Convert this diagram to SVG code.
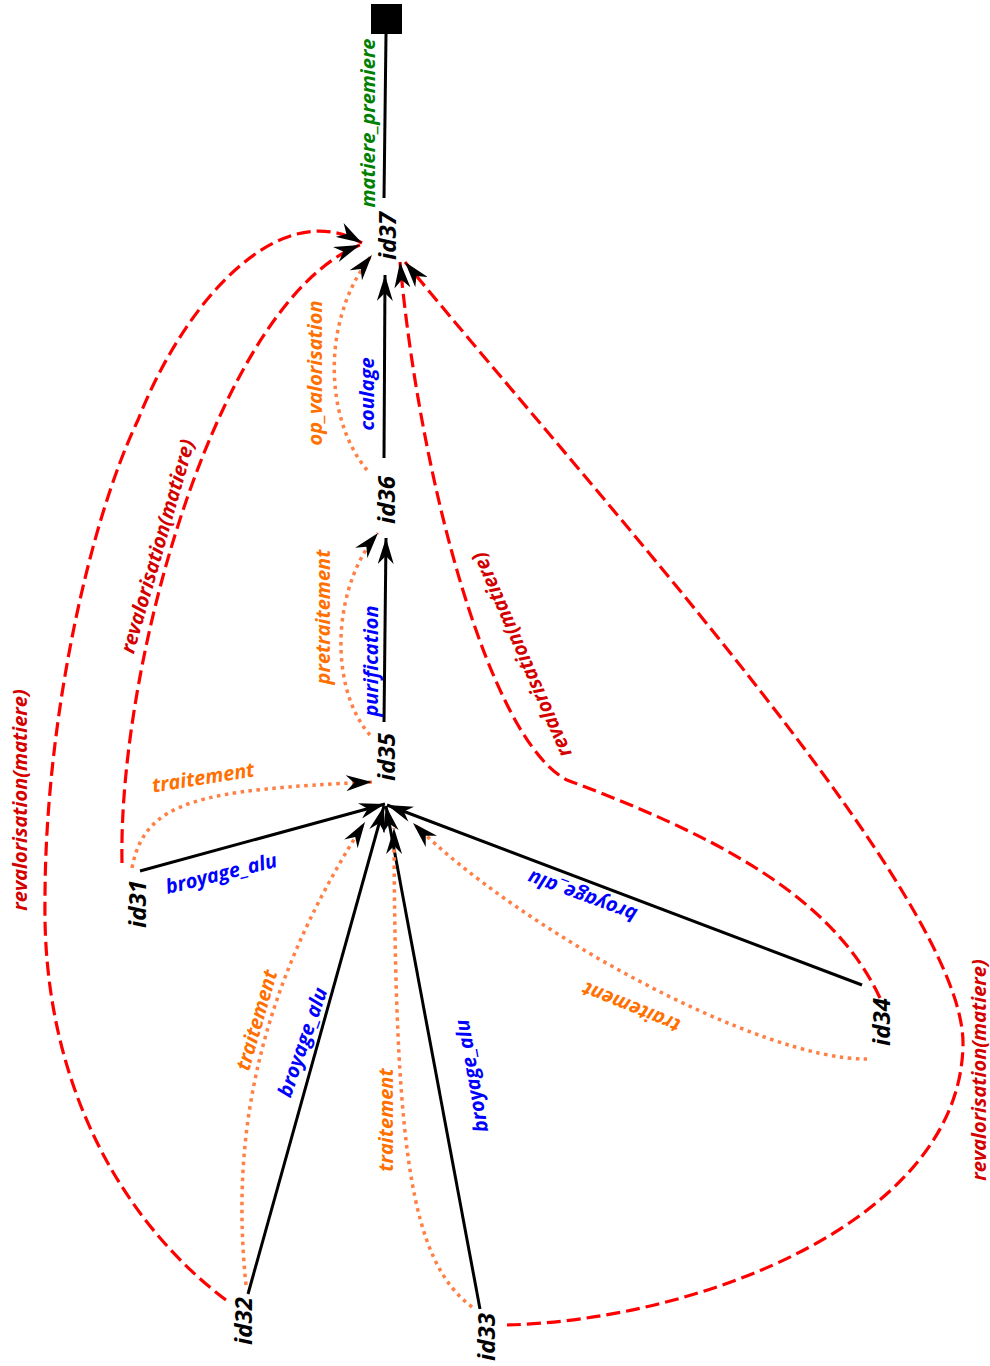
<svg xmlns="http://www.w3.org/2000/svg" width="990" height="1366" viewBox="0 0 990 1366">
<style>
text{font-family:"Open Sans","Noto Sans","DejaVu Sans",sans-serif;font-style:italic;font-weight:700;text-anchor:middle;dominant-baseline:central}
.n{font-size:24px;fill:#000}
.l{font-size:20px}
.g{fill:#008000}.b{fill:#0000ff}.o{fill:#ff7000}.r{fill:#d40000}
.solid{fill:none;stroke:#000;stroke-width:3}
.dot{fill:none;stroke:#ff7f45;stroke-width:3.5;stroke-dasharray:3.5 4.5}
.dash{fill:none;stroke:#ff0000;stroke-width:3.2;stroke-dasharray:14 6}
</style>
<defs>
<marker id="ah" viewBox="0 0 26 16" refX="26" refY="8" markerWidth="26" markerHeight="16" markerUnits="userSpaceOnUse" orient="auto"><path d="M0,0 L26,8 L0,16 L8,8 z" fill="#000"/></marker>
</defs>
<g id="connectors">
<path class="solid" d="M386,34 L384,198"/>
<path class="solid" d="M384,458 L385,275" marker-end="url(#ah)"/>
<path class="solid" d="M384,722 L386,538" marker-end="url(#ah)"/>
<path class="dot" d="M367,470 C325,420 320,320 372,255" marker-end="url(#ah)"/>
<path class="dot" d="M370,735 C330,690 330,590 378,533" marker-end="url(#ah)"/>
<path class="solid" d="M140,871 L385,804" marker-end="url(#ah)"/>
<path class="solid" d="M248,1294 L384,806" marker-end="url(#ah)"/>
<path class="solid" d="M480,1309 L386,806" marker-end="url(#ah)"/>
<path class="solid" d="M862,985 L387,805" marker-end="url(#ah)"/>
<path class="dot" d="M132,868 C145,800 200,790 372,782" marker-end="url(#ah)"/>
<path class="dot" d="M246,1285 C232,1150 250,1000 365,822" marker-end="url(#ah)"/>
<path class="dot" d="M472,1307 C410,1260 395,1150 394,828" marker-end="url(#ah)"/>
<path class="dot" d="M867,1059 C760,1060 520,930 413,823" marker-end="url(#ah)"/>
<path class="dash" d="M122,863 C118,660 220,300 360,245" marker-end="url(#ah)"/>
<path class="dash" d="M226,1300 C120,1220 42,1080 45,900 C45,720 90,520 138,420 C185,300 280,195 362,243" marker-end="url(#ah)"/>
<path class="dash" d="M507,1325 C700,1320 960,1220 963,1045 C966,900 600,500 405,262" marker-end="url(#ah)"/>
<path class="dash" d="M880,998 C830,890 700,830 567,780 C490,740 420,480 400,262" marker-end="url(#ah)"/>
<text class="l g" transform="translate(367,123) rotate(-90)">matiere_premiere</text>
<text class="l b" transform="translate(366,394) rotate(-90)">coulage</text>
<text class="l o" transform="translate(314,373) rotate(-90)">op_valorisation</text>
<text class="l o" transform="translate(322,617) rotate(-90)">pretraitement</text>
<text class="l b" transform="translate(370,661) rotate(-90)">purification</text>
<text class="l o" transform="translate(203,777) rotate(-9)">traitement</text>
<text class="l b" transform="translate(221,873) rotate(-14)">broyage_alu</text>
<text class="l o" transform="translate(256,1020) rotate(-74)">traitement</text>
<text class="l b" transform="translate(302,1042) rotate(-71)">broyage_alu</text>
<text class="l o" transform="translate(385,1120) rotate(-90)">traitement</text>
<text class="l b" transform="translate(471,1076) rotate(-100)">broyage_alu</text>
<text class="l b" transform="translate(582,897) rotate(200)">broyage_alu</text>
<text class="l o" transform="translate(631,1008) rotate(202)">traitement</text>
<text class="l r" transform="translate(157,546) rotate(-74)">revalorisation(matiere)</text>
<text class="l r" transform="translate(19,800) rotate(-90)">revalorisation(matiere)</text>
<text class="l r" transform="translate(978,1070) rotate(-90)">revalorisation(matiere)</text>
<text class="l r" transform="translate(521,655) rotate(-113.5)">revalorisation(matiere)</text>
</g>
<g id="start"><rect x="371" y="4" width="31" height="30" fill="#000"/></g>
<g id="id37"><text class="n" transform="translate(386,236) rotate(-90)">id37</text></g>
<g id="id36"><text class="n" transform="translate(385,500) rotate(-90)">id36</text></g>
<g id="id35"><text class="n" transform="translate(385,757) rotate(-90)">id35</text></g>
<g id="id31"><text class="n" transform="translate(136,904) rotate(-90)">id31</text></g>
<g id="id32"><text class="n" transform="translate(242,1321) rotate(-90)">id32</text></g>
<g id="id33"><text class="n" transform="translate(485,1337) rotate(-90)">id33</text></g>
<g id="id34"><text class="n" transform="translate(880,1022) rotate(-90)">id34</text></g>
</svg>
